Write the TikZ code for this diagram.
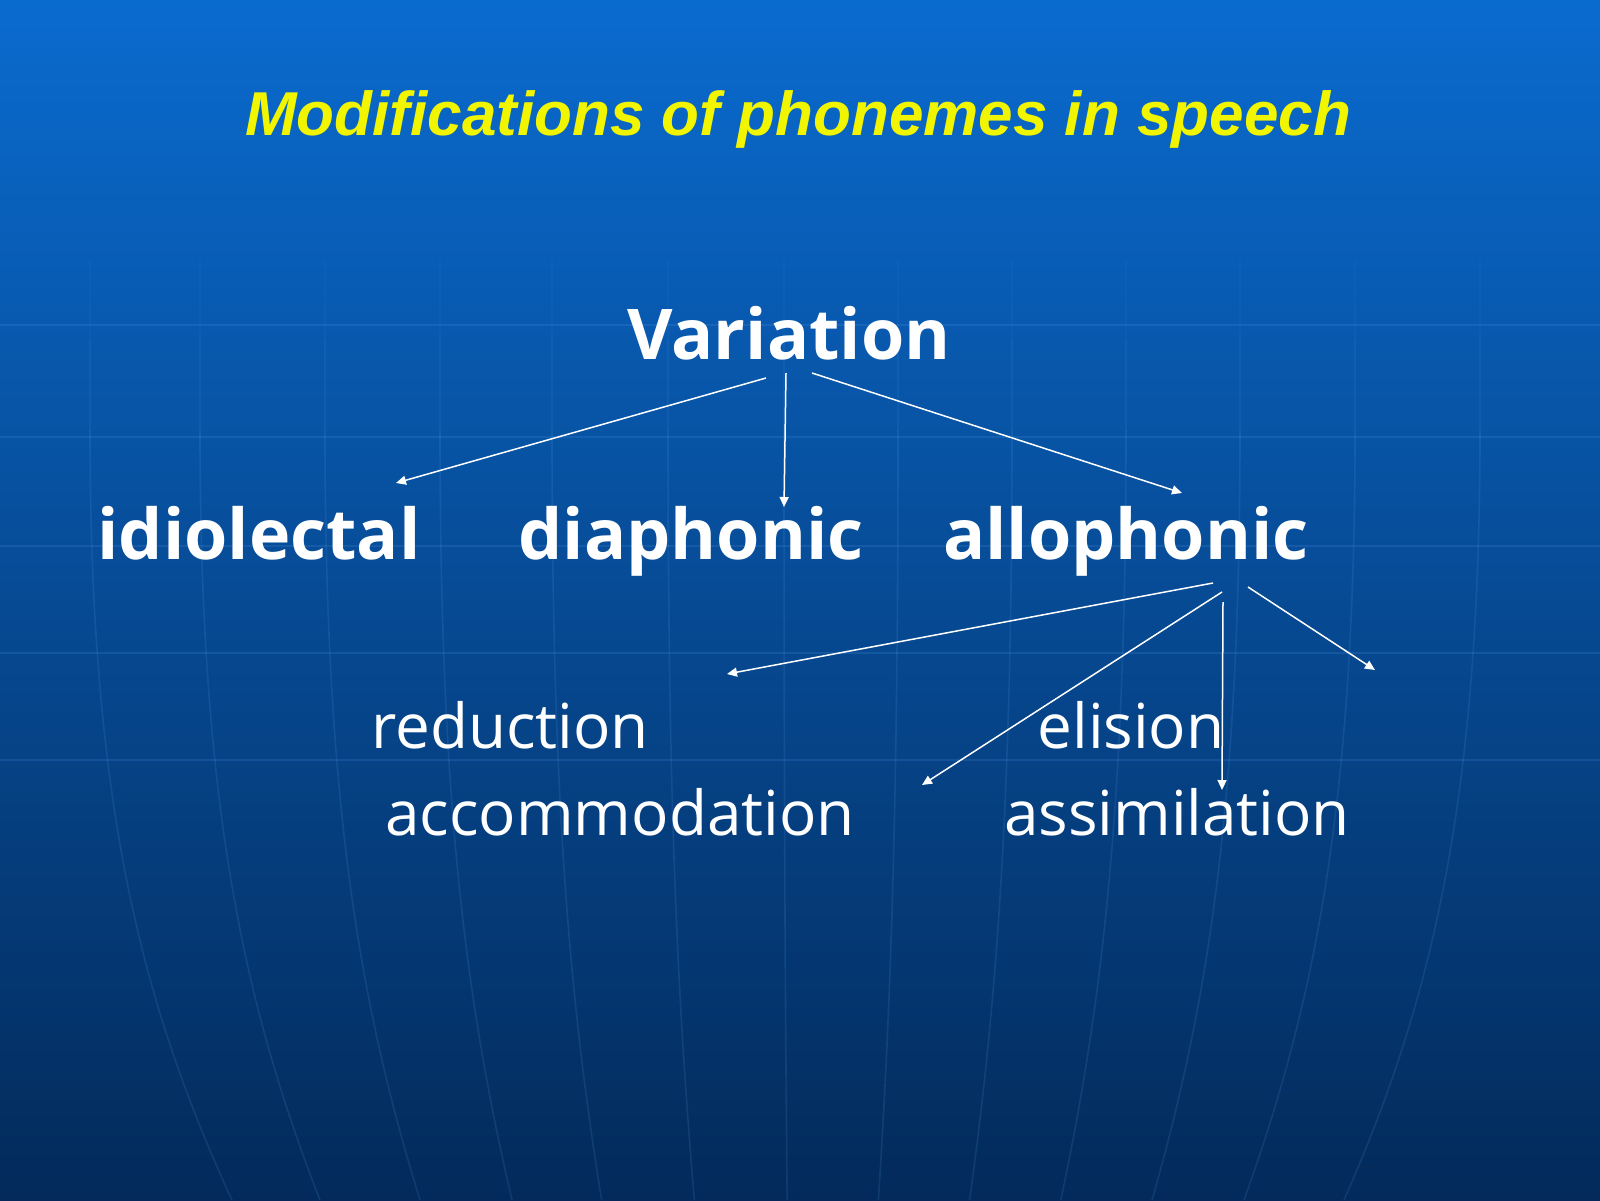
\documentclass[tikz,border=0pt]{standalone}
\usepackage{fontspec}
\setmainfont{Open Sans}
\newfontfamily\titlefont{Liberation Sans}
\usetikzlibrary{arrows.meta}
\definecolor{bgtop}{HTML}{0A6BCF}
\definecolor{bgmid}{HTML}{0A4B9C}
\definecolor{bgbot}{HTML}{032A5A}
\definecolor{gridc}{HTML}{5AA8F0}
\definecolor{titleyellow}{HTML}{F2F500}
\tikzset{
  headword/.style={text=white, font=\fontsize{35}{42}\selectfont\bfseries, anchor=base, inner sep=0pt},
  leafword/.style={text=white, font=\fontsize{31}{37}\selectfont, anchor=base, inner sep=0pt},
  titleword/.style={text=titleyellow, font=\titlefont\fontsize{31}{37}\selectfont\bfseries\itshape, anchor=base, inner sep=0pt},
  link/.style={draw=white, line width=0.75pt, -{Triangle[length=5pt,width=4.5pt]}},
  gridline/.style={draw=gridc, line width=1.2pt, opacity=0.16},
  meridian/.style={draw=gridc, line width=0.8pt, opacity=0.14}
}
\begin{document}
\begin{tikzpicture}[x=0.5pt,y=-0.5pt]
\useasboundingbox (0,0) rectangle (1600,1200);
% background
\shade[top color=bgtop, middle color=bgmid, bottom color=bgbot] (0,0) rectangle (1600,1200);
\foreach \yy in {325,437,546,653,760} {
  \path[gridline] (0,\yy) -- (1600,\yy);
}
\foreach \xx in {90,200,325,440,552,668,784,898,1012,1126,1240,1355,1480} {
  \pgfmathsetmacro{\xb}{800+(\xx-800)*0.8}
  \pgfmathsetmacro{\xc}{800+(\xx-800)*0.93}
  \path[meridian] (\xx,430) .. controls (\xx,800) and (\xc,1000) .. (\xb,1200);
  \path[meridian, opacity=0.09] (\xx,340) -- (\xx,430);
  \path[meridian, opacity=0.05] (\xx,260) -- (\xx,340);
}
% texts
\node[titleword] (title) at (798,135) {Modifications of phonemes in speech};
\node[headword] (var) at (789,359) {Variation};
\node[headword] (idio) at (259,559) {idiolectal};
\node[headword] (dia) at (691,559) {diaphonic};
\node[headword] (allo) at (1126,559) {allophonic};
\node[leafword] (red) at (510,748) {reduction};
\node[leafword] (eli) at (1131,748) {elision};
\node[leafword] (acc) at (620,835) {accommodation};
\node[leafword] (ass) at (1177,835) {assimilation};
% connector end points
\coordinate (v1) at (766,378);
\coordinate (v2) at (786,373);
\coordinate (v3) at (812,373);
\coordinate (i1) at (396,483);
\coordinate (d1) at (784,507);
\coordinate (a1) at (1182,493);
\coordinate (p1) at (1213,583);
\coordinate (p2) at (1222,592);
\coordinate (p3) at (1223,602);
\coordinate (p4) at (1248,587);
\coordinate (r1) at (727,674);
\coordinate (c1) at (922,785);
\coordinate (s1) at (1222,790);
\coordinate (e1) at (1375,670);
\draw[link] (v1) -- (i1);
\draw[link] (v2) -- (d1);
\draw[link] (v3) -- (a1);
\draw[link] (p1) -- (r1);
\draw[link] (p2) -- (c1);
\draw[link] (p3) -- (s1);
\draw[link] (p4) -- (e1);
\end{tikzpicture}
\end{document}
